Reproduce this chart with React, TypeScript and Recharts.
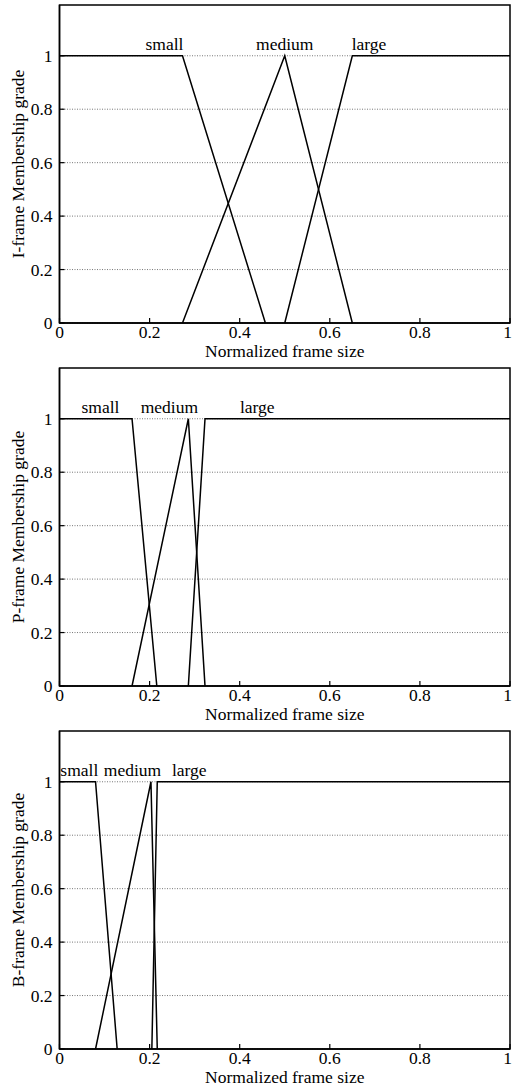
import React from 'react';
import { LineChart, Line, XAxis, YAxis, CartesianGrid, ReferenceArea, ReferenceDot } from 'recharts';

const xTicks = [0, 0.2, 0.4, 0.6, 0.8, 1];
const yTicks = [0, 0.2, 0.4, 0.6, 0.8, 1];
const yMax = 1.19;
const setNames = ['small', 'medium', 'large'];

// I-frame membership functions
const iSmall = [{ x: 0, y: 1 }, { x: 0.273, y: 1 }, { x: 0.457, y: 0 }];
const iMedium = [{ x: 0.273, y: 0 }, { x: 0.5, y: 1 }, { x: 0.65, y: 0 }];
const iLarge = [{ x: 0.5, y: 0 }, { x: 0.65, y: 1 }, { x: 1, y: 1 }];
const iLabelX = [0.233, 0.5, 0.687];

// P-frame membership functions
const pSmall = [{ x: 0, y: 1 }, { x: 0.161, y: 1 }, { x: 0.216, y: 0 }];
const pMedium = [{ x: 0.161, y: 0 }, { x: 0.286, y: 1 }, { x: 0.323, y: 0 }];
const pLarge = [{ x: 0.286, y: 0 }, { x: 0.323, y: 1 }, { x: 1, y: 1 }];
const pLabelX = [0.091, 0.244, 0.439];

// B-frame membership functions
const bSmall = [{ x: 0, y: 1 }, { x: 0.08, y: 1 }, { x: 0.128, y: 0 }];
const bMedium = [{ x: 0.08, y: 0 }, { x: 0.203, y: 1 }, { x: 0.217, y: 0 }];
const bLarge = [{ x: 0.205, y: 0 }, { x: 0.217, y: 1 }, { x: 1, y: 1 }];
const bLabelX = [0.044, 0.162, 0.288];

const FONT = "'Liberation Serif', 'Times New Roman', serif";
const FS = 17.5;
const textStyle = { fontFamily: FONT, fontSize: FS, fill: '#000' };

type Pt = { x: number; y: number };

interface PanelProps {
  yLabel: string;
  series: Pt[][];
  labelX: number[];
}

function Panel({ yLabel, series, labelX }: PanelProps) {
  const renderYLabel = (props: any) => {
    const vb = props.viewBox || {};
    const cx = (vb.x ?? 0) + 18;
    const cy = (vb.y ?? 0) + (vb.height ?? 0) / 2;
    return (
      <text
        x={cx}
        y={cy}
        transform={`rotate(-90, ${cx}, ${cy})`}
        textAnchor="middle"
        dominantBaseline="central"
        style={textStyle}
      >
        {yLabel}
      </text>
    );
  };

  return (
    <LineChart width={512} height={363} margin={{ top: 5, right: 2, bottom: 0, left: 0 }}>
      <CartesianGrid
        vertical={false}
        stroke="#777"
        strokeDasharray="1 1.5"
        horizontalValues={yTicks}
      />
      <XAxis
        type="number"
        dataKey="x"
        domain={[0, 1]}
        ticks={xTicks}
        height={40}
        tickSize={-5}
        tickMargin={8}
        axisLine={{ stroke: '#000', strokeWidth: 1.5 }}
        tickLine={{ stroke: '#000', strokeWidth: 1.2 }}
        tick={{ ...textStyle, style: textStyle }}
        label={{
          value: 'Normalized frame size',
          position: 'insideBottom',
          offset: 6,
          style: textStyle,
        }}
      />
      <YAxis
        type="number"
        dataKey="y"
        domain={[0, yMax]}
        ticks={yTicks}
        width={59.5}
        tickSize={-5}
        tickMargin={12}
        axisLine={{ stroke: '#000', strokeWidth: 1.5 }}
        tickLine={{ stroke: '#000', strokeWidth: 1.2 }}
        tick={{ ...textStyle, style: textStyle }}
        label={{ content: renderYLabel }}
      />
      <ReferenceArea
        x1={0}
        x2={1}
        y1={0}
        y2={yMax}
        fill="none"
        fillOpacity={0}
        stroke="#000"
        strokeWidth={1.5}
        ifOverflow="visible"
      />
      {series.map((s, i) => (
        <Line
          key={setNames[i]}
          data={s}
          dataKey="y"
          type="linear"
          stroke="#000"
          strokeWidth={1.5}
          dot={false}
          activeDot={false}
          isAnimationActive={false}
        />
      ))}
      {labelX.map((lx, i) => (
        <ReferenceDot
          key={'lab-' + setNames[i]}
          x={lx}
          y={1}
          r={0}
          fill="none"
          stroke="none"
          ifOverflow="visible"
          label={{
            value: setNames[i],
            position: 'top',
            offset: 6,
            style: textStyle,
          }}
        />
      ))}
    </LineChart>
  );
}

export default function App() {
  return (
    <div
      style={{
        position: 'absolute',
        left: 0,
        top: 0,
        width: 512,
        background: '#fff',
        fontFamily: FONT,
      }}
    >
      <Panel yLabel="I-frame Membership grade" series={[iSmall, iMedium, iLarge]} labelX={iLabelX} />
      <Panel yLabel="P-frame Membership grade" series={[pSmall, pMedium, pLarge]} labelX={pLabelX} />
      <Panel yLabel="B-frame Membership grade" series={[bSmall, bMedium, bLarge]} labelX={bLabelX} />
    </div>
  );
}
